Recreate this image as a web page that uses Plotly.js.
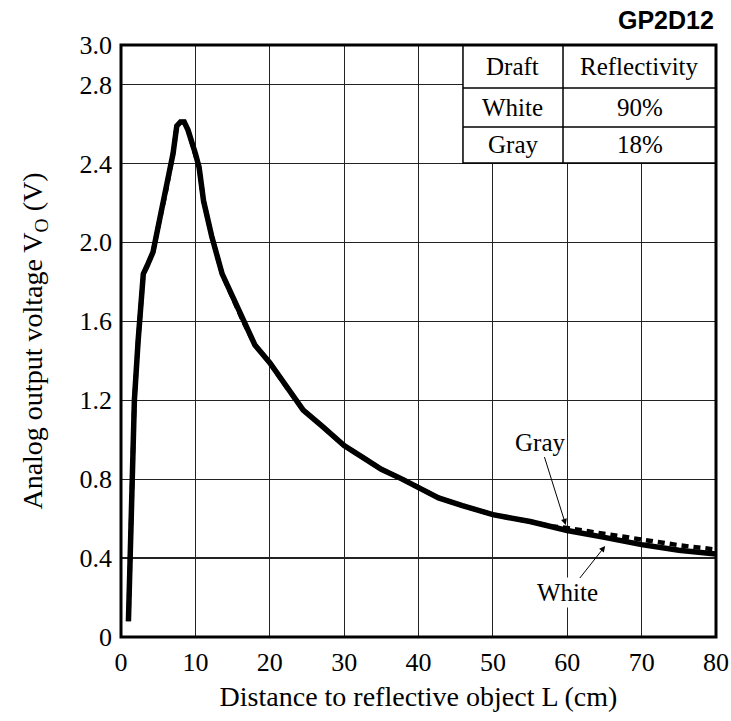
<!DOCTYPE html>
<html>
<head>
<meta charset="utf-8">
<script src="https://cdn.plot.ly/plotly-3.0.1.min.js"></script>
<style>
  html, body { margin: 0; padding: 0; background: #fff; }
  #chart { width: 731px; height: 721px; }
</style>
</head>
<body>
<div id="chart"></div>
<script>
// ---- Data ----
const distanceWhite = [1.0, 1.2, 1.5, 1.8, 2.3, 3.0, 3.5, 4.3, 5.0, 6.0, 7.0, 7.5, 8.0, 8.5, 9.0, 10.0, 10.5, 11.1, 12.2, 13.6, 15.0, 16.3, 18.0, 20.0, 22.2, 24.5, 27.0, 30.0, 32.5, 35.0, 37.8, 40.0, 42.7, 45.9, 50.0, 55.0, 60.0, 65.0, 70.0, 75.0, 80.0];
const voltageWhite  = [0.08, 0.40, 0.80, 1.20, 1.50, 1.84, 1.88, 1.95, 2.08, 2.25, 2.45, 2.59, 2.61, 2.61, 2.57, 2.45, 2.38, 2.21, 2.03, 1.84, 1.72, 1.61, 1.48, 1.39, 1.27, 1.15, 1.07, 0.97, 0.91, 0.85, 0.80, 0.755, 0.705, 0.666, 0.62, 0.585, 0.54, 0.505, 0.468, 0.44, 0.42];
const distanceGray  = [1.0, 1.2, 1.5, 1.8, 2.3, 3.0, 3.5, 4.3, 5.0, 6.0, 7.0, 7.5, 8.0, 8.5, 9.0, 10.0, 10.5, 11.1, 12.2, 13.6, 15.0, 16.3, 18.0, 20.0, 22.2, 24.5, 27.0, 30.0, 32.5, 35.0, 37.8, 40.0, 42.7, 45.9, 50.0, 55.0, 58.0, 60.0, 65.0, 70.0, 75.0, 80.0];
const voltageGray   = [0.08, 0.40, 0.80, 1.20, 1.50, 1.84, 1.88, 1.95, 2.08, 2.25, 2.45, 2.59, 2.61, 2.61, 2.57, 2.45, 2.38, 2.21, 2.03, 1.84, 1.72, 1.61, 1.48, 1.39, 1.27, 1.15, 1.07, 0.97, 0.91, 0.85, 0.80, 0.755, 0.705, 0.666, 0.62, 0.585, 0.56, 0.552, 0.522, 0.493, 0.465, 0.443];

const xTickVals = [0, 10, 20, 30, 40, 50, 60, 70, 80];
const yTickVals = [0, 0.4, 0.8, 1.2, 1.6, 2.0, 2.4, 2.8, 3.0];
const yTickText = ["0", "0.4", "0.8", "1.2", "1.6", "2.0", "2.4", "2.8", "3.0"];

const tableHeader = ["Draft", "Reflectivity"];
const tableDraft = ["White", "Gray"];
const tableReflectivity = ["90%", "18%"];

const chartTitle = "GP2D12";
const xTitle = "Distance to reflective object L (cm)";
const yTitle = "Analog output voltage V<sub>O</sub> (V)";

// ---- Layout constants (positions, not data) ----
const serif = "Liberation Serif, Times New Roman, serif";
const tblX = [45.98, 59.43, 80];         // column borders (left, middle, right)
const tblY = [3.0, 2.782, 2.585, 2.402]; // row borders (top ... bottom)

const traces = [
  {
    x: distanceWhite, y: voltageWhite, name: "White", type: "scatter", mode: "lines",
    line: { color: "#000", width: 5.5, shape: "linear" }, hoverinfo: "x+y"
  },
  {
    x: distanceGray, y: voltageGray, name: "Gray", type: "scatter", mode: "lines",
    line: { color: "#000", width: 4.5, dash: "7px,5px" }, hoverinfo: "x+y"
  }
];

const shapes = [];
// table background (hides gridlines)
shapes.push({ type: "rect", xref: "x", yref: "y", x0: tblX[0], x1: tblX[2], y0: tblY[3], y1: tblY[0],
  fillcolor: "#fff", line: { color: "#000", width: 1.5 }, layer: "above" });
// middle column line
shapes.push({ type: "line", xref: "x", yref: "y", x0: tblX[1], x1: tblX[1], y0: tblY[3], y1: tblY[0],
  line: { color: "#000", width: 1.5 }, layer: "above" });
// row lines
[tblY[1], tblY[2]].forEach(v => shapes.push({ type: "line", xref: "x", yref: "y", x0: tblX[0], x1: tblX[2], y0: v, y1: v,
  line: { color: "#000", width: 1.5 }, layer: "above" }));
// outer frame
shapes.push({ type: "rect", xref: "paper", yref: "paper", x0: 0, x1: 1, y0: 0, y1: 1,
  line: { color: "#000", width: 3 }, layer: "above" });

const annotations = [];
const rowCenters = [(tblY[0] + tblY[1]) / 2, (tblY[1] + tblY[2]) / 2, (tblY[2] + tblY[3]) / 2];
const colCenters = [(tblX[0] + tblX[1]) / 2, (tblX[1] + tblX[2]) / 2];
const cellFont = { family: serif, size: 25, color: "#000" };
annotations.push({ x: colCenters[0], y: rowCenters[0], xref: "x", yref: "y", text: tableHeader[0], showarrow: false, font: cellFont });
annotations.push({ x: colCenters[1], y: rowCenters[0], xref: "x", yref: "y", text: tableHeader[1], showarrow: false, font: cellFont });
for (let i = 0; i < tableDraft.length; i++) {
  annotations.push({ x: colCenters[0], y: rowCenters[i + 1], xref: "x", yref: "y", text: tableDraft[i], showarrow: false, font: cellFont });
  annotations.push({ x: colCenters[1], y: rowCenters[i + 1], xref: "x", yref: "y", text: tableReflectivity[i], showarrow: false, font: cellFont });
}
// chart title (top-right, bold sans)
annotations.push({ x: 1, y: 1, xref: "paper", yref: "paper", xanchor: "right", yanchor: "bottom", yshift: 9,
  text: "<b>" + chartTitle + "</b>", showarrow: false,
  font: { family: "Liberation Sans, Arial, sans-serif", size: 25, color: "#000" } });
// curve labels with arrows
annotations.push({ x: 59.8, y: 0.568, xref: "x", yref: "y", ax: 56.3, ay: 0.988, axref: "x", ayref: "y",
  text: "Gray", showarrow: true, arrowhead: 2, arrowsize: 1.2, arrowwidth: 1, arrowcolor: "#000", standoff: 0,
  font: cellFont });
annotations.push({ x: 65.1, y: 0.461, xref: "x", yref: "y", ax: 60.1, ay: 0.223, axref: "x", ayref: "y",
  text: "White", showarrow: true, arrowhead: 2, arrowsize: 1.2, arrowwidth: 1, arrowcolor: "#000", standoff: 0,
  bgcolor: "#fff", font: cellFont });

const layout = {
  width: 731, height: 721,
  margin: { l: 121, r: 15, t: 45, b: 84 },
  paper_bgcolor: "#fff", plot_bgcolor: "#fff",
  showlegend: false,
  xaxis: {
    range: [0, 80], tickvals: xTickVals, ticks: "", showline: false, zeroline: false,
    showgrid: true, gridcolor: "#222", gridwidth: 1.2,
    tickfont: { family: serif, size: 26, color: "#000" }, ticklabelstandoff: 7,
    title: { text: xTitle, font: { family: serif, size: 28, color: "#000" }, standoff: 10 },
    fixedrange: true
  },
  yaxis: {
    range: [0, 3.0], tickvals: yTickVals, ticktext: yTickText, ticks: "", showline: false, zeroline: false,
    showgrid: true, gridcolor: "#222", gridwidth: 1.2,
    tickfont: { family: serif, size: 26, color: "#000" }, ticklabelstandoff: 8,
    title: { text: yTitle, font: { family: serif, size: 28, color: "#000" }, standoff: 28 },
    fixedrange: true
  },
  shapes: shapes,
  annotations: annotations
};

Plotly.newPlot("chart", traces, layout, { displayModeBar: false, staticPlot: true });
</script>
</body>
</html>
